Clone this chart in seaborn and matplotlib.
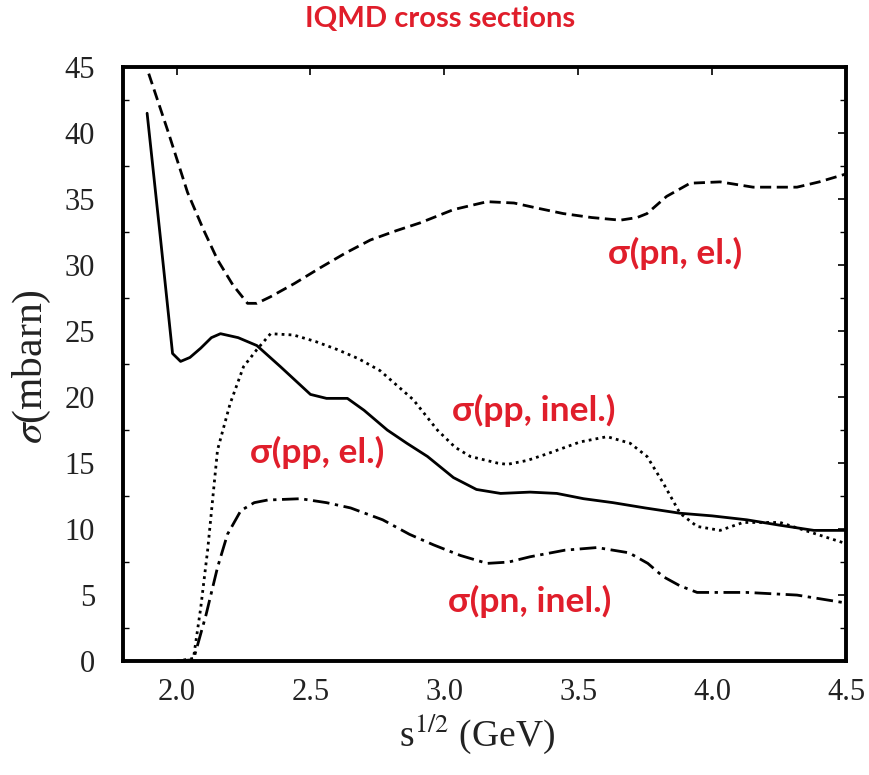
import numpy as np
import pandas as pd
import matplotlib
matplotlib.use("Agg")
import matplotlib.pyplot as plt
from matplotlib.ticker import MultipleLocator
import seaborn as sns

# ---- data ----
pn_el_x = [1.896, 1.97, 2.041, 2.10, 2.153, 2.21, 2.265, 2.30, 2.351, 2.44, 2.537, 2.63, 2.724,
           2.82, 2.91, 3.034, 3.16, 3.26, 3.35, 3.444, 3.55, 3.657, 3.72, 3.757, 3.83, 3.918,
           4.03, 4.153, 4.317, 4.40, 4.50]
pn_el_y = [44.5, 40.0, 35.5, 32.7, 30.4, 28.5, 27.1, 27.1, 27.6, 28.6, 29.8, 30.9, 31.9,
           32.6, 33.2, 34.2, 34.8, 34.7, 34.3, 33.9, 33.6, 33.4, 33.6, 33.9, 35.2, 36.2,
           36.3, 35.9, 35.9, 36.3, 36.9]

pp_el_x = [1.89, 1.94, 1.985, 2.015, 2.05, 2.09, 2.13, 2.164, 2.23, 2.30, 2.388, 2.50, 2.56,
           2.638, 2.70, 2.787, 2.86, 2.937, 3.034, 3.12, 3.21, 3.32, 3.42, 3.52, 3.63, 3.75,
           3.88, 4.00, 4.13, 4.25, 4.38, 4.50]
pp_el_y = [41.5, 32.0, 23.3, 22.7, 23.0, 23.7, 24.5, 24.8, 24.5, 23.9, 22.3, 20.2, 19.9,
           19.9, 19.0, 17.5, 16.5, 15.5, 13.9, 13.0, 12.7, 12.8, 12.7, 12.3, 12.0, 11.6,
           11.2, 11.0, 10.7, 10.3, 9.9, 9.9]

pp_inel_x = [2.00, 2.063, 2.09, 2.116, 2.153, 2.20, 2.25, 2.30, 2.351, 2.437, 2.52, 2.60, 2.68,
             2.76, 2.884, 2.974, 3.04, 3.097, 3.198, 3.235, 3.31, 3.384, 3.507, 3.608, 3.694,
             3.757, 3.817, 3.88, 3.944, 4.03, 4.116, 4.254, 4.377, 4.50]
pp_inel_y = [0.0, 0.2, 4.0, 8.4, 16.0, 19.5, 22.3, 23.6, 24.8, 24.7, 24.2, 23.6, 22.9,
             22.0, 19.8, 17.5, 16.2, 15.5, 15.0, 14.9, 15.2, 15.7, 16.6, 17.0, 16.5,
             15.5, 13.5, 11.2, 10.2, 9.9, 10.5, 10.5, 9.7, 8.9]

pn_inel_x = [2.00, 2.063, 2.11, 2.153, 2.19, 2.24, 2.29, 2.34, 2.463, 2.56, 2.65, 2.77, 2.87,
             2.96, 3.06, 3.16, 3.24, 3.32, 3.45, 3.57, 3.69, 3.76, 3.817, 3.88, 3.944, 4.13,
             4.317, 4.50]
pn_inel_y = [0.0, 0.1, 3.5, 7.1, 9.6, 11.4, 12.0, 12.2, 12.3, 12.0, 11.6, 10.7, 9.6,
             8.8, 8.0, 7.4, 7.5, 7.9, 8.4, 8.6, 8.2, 7.4, 6.4, 5.7, 5.2, 5.2,
             5.0, 4.4]

labels = ["σ(pn, el.)", "σ(pp, inel.)", "σ(pp, el.)", "σ(pn, inel.)"]
label_x = [3.86, 3.335, 2.525, 3.32]
label_y = [30.9, 19.0, 15.8, 4.5]

x_ticks = [2.0, 2.5, 3.0, 3.5, 4.0, 4.5]
y_ticks = [0, 5, 10, 15, 20, 25, 30, 35, 40, 45]

title = "IQMD cross sections"

# ---- plotting ----
sns.set_theme(style="white")
plt.rcParams["font.family"] = ["Liberation Serif", "DejaVu Serif"]
plt.rcParams["mathtext.fontset"] = "stix"

fig = plt.figure(figsize=(8.7, 7.75), dpi=100)
ax = fig.add_axes([0.1414, 0.147, 0.831, 0.7665])

red = "#e01e2b"

series = [
    (pn_el_x, pn_el_y, (0, (4.0, 2.0))),
    (pp_el_x, pp_el_y, "-"),
    (pp_inel_x, pp_inel_y, (0, (1.0, 1.5))),
    (pn_inel_x, pn_inel_y, (0, (6.0, 2.0, 1.2, 2.0))),
]
for xs, ys, ls in series:
    df = pd.DataFrame({"x": xs, "y": ys})
    sns.lineplot(data=df, x="x", y="y", ax=ax, color="black", lw=2.0,
                 linestyle=ls, sort=False, estimator=None)

for t, lx, ly in zip(labels, label_x, label_y):
    ax.text(lx, ly, t, color=red, fontsize=25.5, fontweight="bold",
            family=["Lato", "DejaVu Sans"], ha="center", va="center")

ax.set_xlim(1.8, 4.5)
ax.set_ylim(0, 45)
ax.set_xticks(x_ticks)
ax.set_xticklabels([f"{v:.1f}" for v in x_ticks])
ax.set_yticks(y_ticks)
ax.set_yticklabels([str(v) for v in y_ticks])
ax.yaxis.set_minor_locator(MultipleLocator(2.5))
ax.tick_params(axis="both", which="major", direction="in", length=6, width=1.2,
               top=True, right=True, labelsize=22, labelcolor="#222222",
               color="black")
ax.tick_params(axis="y", which="major", pad=20)
ax.tick_params(axis="x", which="major", pad=12)
ax.tick_params(axis="y", which="minor", direction="in", length=4, width=1.0,
               left=True, right=True, color="black")

for s in ax.spines.values():
    s.set_color("black")
    s.set_linewidth(2.8)

ax.set_xlabel(r"s$^{1/2}$ (GeV)", fontsize=27, color="#222222")
ax.xaxis.set_label_coords(0.49, -0.086)
ax.set_ylabel(r"$\sigma$(mbarn)", fontsize=30, color="#222222")
ax.yaxis.set_label_coords(-0.097, 0.495)

fig.text(0.506, 0.975, title, color=red, fontsize=21, fontweight="bold",
         family=["Lato", "DejaVu Sans"], ha="center", va="center")

fig.savefig("out.png", dpi=100, facecolor="white")
